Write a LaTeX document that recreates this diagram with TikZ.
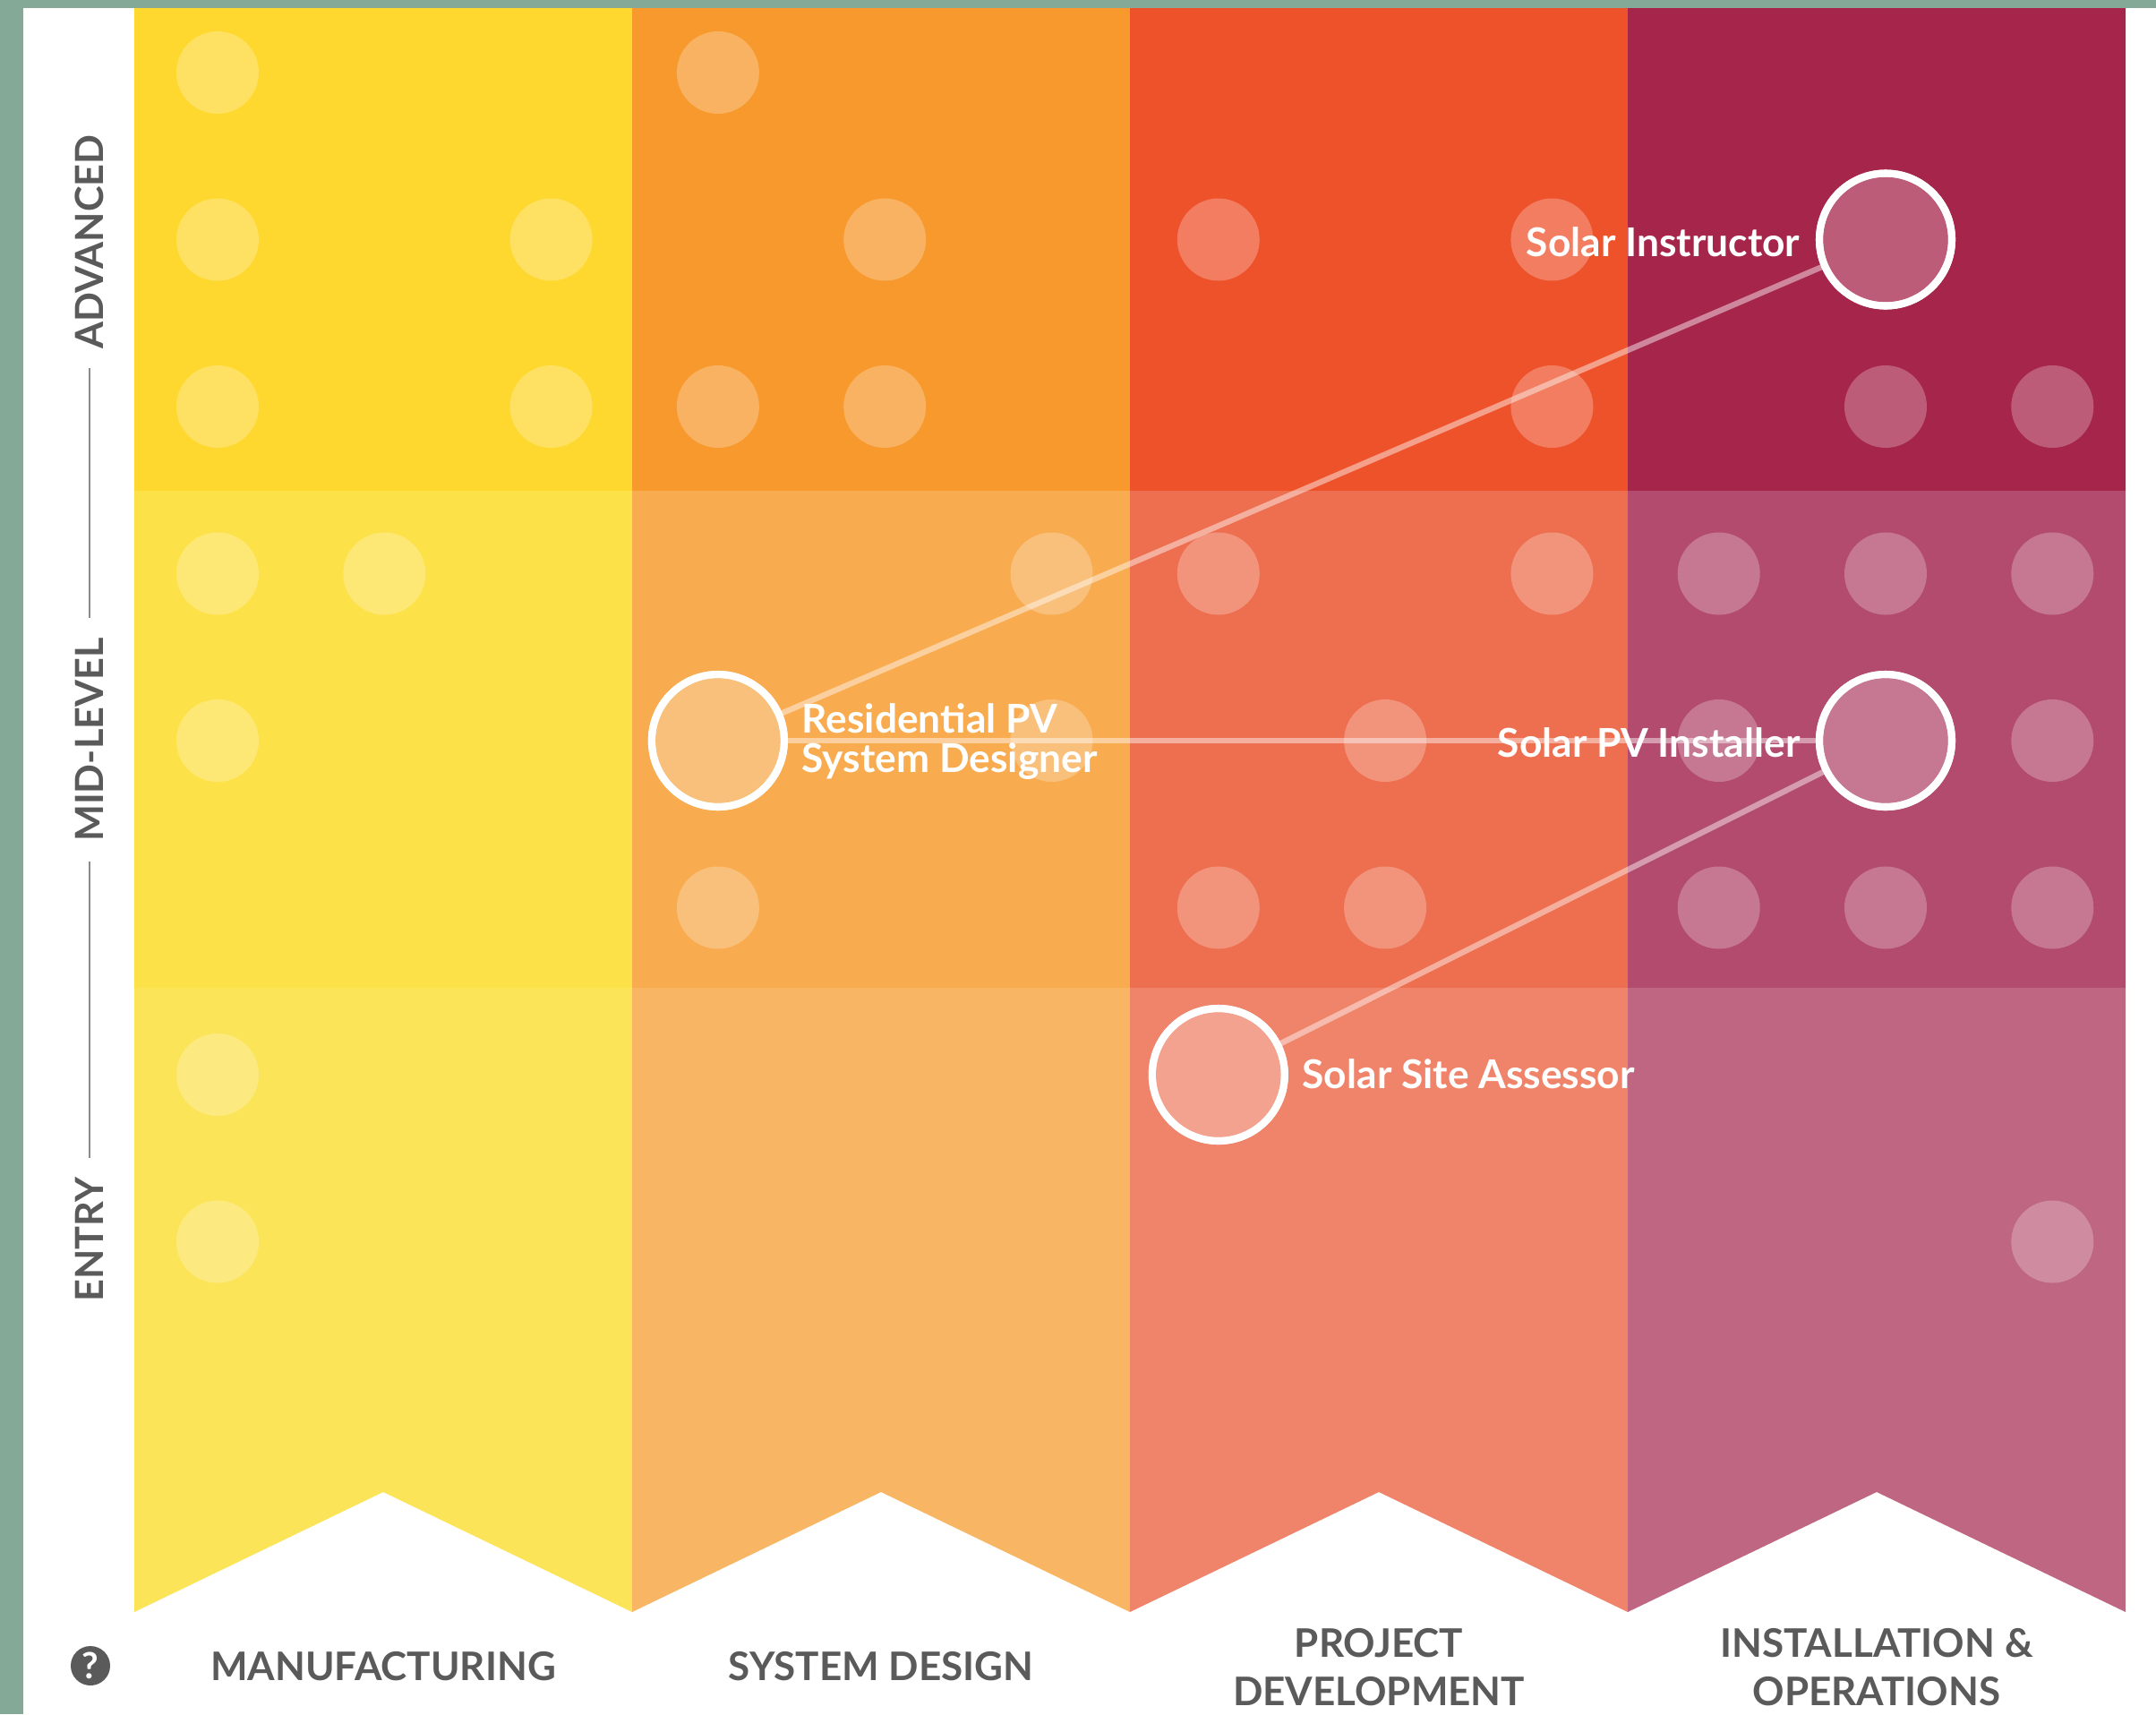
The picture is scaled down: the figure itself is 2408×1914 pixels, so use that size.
\documentclass[tikz,border=0pt]{standalone}
\usepackage{fontspec}
\setmainfont{Lato}
\definecolor{frame}{HTML}{84AA97}
\definecolor{yA}{HTML}{FED82F}
\definecolor{yB}{HTML}{FDE148}
\definecolor{yC}{HTML}{FCE458}
\definecolor{oA}{HTML}{F7992D}
\definecolor{oB}{HTML}{F8AB4F}
\definecolor{oC}{HTML}{F8B665}
\definecolor{rA}{HTML}{EE522B}
\definecolor{rB}{HTML}{EE6F4F}
\definecolor{rC}{HTML}{F0846A}
\definecolor{mA}{HTML}{A6264B}
\definecolor{mB}{HTML}{B34B6E}
\definecolor{mC}{HTML}{BF6682}
\definecolor{labgray}{HTML}{5A5A5A}
\begin{document}
\begin{tikzpicture}[x=0.01cm,y=-0.01cm,
  dot/.style={circle,fill=white,fill opacity=0.25,minimum size=92*0.01cm,inner sep=0pt},
  job/.style={circle,fill=white,fill opacity=0.25,draw=white,draw opacity=1,line width=2.3pt,minimum size=148*0.01cm,inner sep=0pt},
  link/.style={draw=white,draw opacity=0.45,line width=1.8pt},
  joblabel/.style={text=white,font=\bfseries\fontsize{12.6}{12.5}\selectfont,inner sep=0pt},
  collabel/.style={text=labgray,font=\bfseries\fontsize{12.5}{15.4}\selectfont,align=center,inner sep=0pt},
  axlabel/.style={text=labgray,font=\bfseries\fontsize{12.3}{14}\selectfont,rotate=90,inner sep=6pt},
  axline/.style={draw=labgray!70,line width=0.6pt}]
\useasboundingbox (0,0) rectangle (2408,1914);
\fill[white] (0,0) rectangle (2408,1914);
\fill[frame] (0,0) rectangle (26,1914);
\fill[frame] (0,0) rectangle (2408,9);
% columns
\foreach \x/\ca/\cb/\cc in {150/yA/yB/yC,706/oA/oB/oC,1262/rA/rB/rC,1818/mA/mB/mC}{
  \fill[\cc] (\x,9) -- ++(556,0) -- ++(0,1791) -- ++(-278,-134) -- ++(-278,134) -- cycle;
  \fill[\cb] (\x,548) rectangle ++(556,555);
  \fill[\ca] (\x,9) rectangle ++(556,539);
}
% dots
\foreach \i/\j in {0/0,3/0,
  0/1,2/1,4/1,6/1,8/1,
  0/2,2/2,3/2,4/2,8/2,10/2,11/2,
  0/3,1/3,5/3,6/3,8/3,9/3,10/3,11/3,
  0/4,5/4,7/4,9/4,11/4,
  3/5,6/5,7/5,9/5,10/5,11/5,
  0/6,
  0/7,11/7}{
  \node[dot] (d\i-\j) at ({243+186.3*\i},{81+186.5*\j}) {};
}
% job circles
\node[job] (instr) at ({243+186.3*10},{81+186.5*1}) {};
\node[job] (resid) at ({243+186.3*3},{81+186.5*4}) {};
\node[job] (inst) at ({243+186.3*10},{81+186.5*4}) {};
\node[job] (site) at ({243+186.3*6},{81+186.5*6}) {};
% links
\path[link] (resid) -- (instr);
\path[link] (resid) -- (inst);
\path[link] (site) -- (inst);
% redraw rings on top
\foreach \n in {instr,resid,inst,site}{
  \draw[white,line width=2.3pt] (\n.center) circle (74*0.01cm);
}
% job labels
\node[joblabel,anchor=east] (linstr) at (2011,270) {Solar Instructor};
\node[joblabel,anchor=east] (linst) at (2011,829) {Solar PV Installer};
\node[joblabel,anchor=west,align=left] (lresid) at (895,828) {Residential PV\\System Designer};
\node[joblabel,anchor=west] (lsite) at (1454,1199) {Solar Site Assessor};
% column labels
\node[collabel] (c1) at (428,1861) {MANUFACTURING};
\node[collabel] (c2) at (984,1861) {SYSTEM DESIGN};
\node[collabel] (c3) at (1540,1862) {PROJECT\\DEVELOPMENT};
\node[collabel] (c4) at (2096,1862) {INSTALLATION \&\\OPERATIONS};
\node[circle,fill=labgray,text=white,minimum size=44*0.01cm,inner sep=0pt,font=\bfseries\fontsize{11.5}{11.5}\selectfont] (help) at (101,1860) {?};
% axis labels
\node[axlabel] (adv) at (100,270) {ADVANCED};
\node[axlabel] (mid) at (100,826) {MID-LEVEL};
\node[axlabel] (ent) at (100,1384) {ENTRY};
\draw[axline] (adv.west) -- (mid.east);
\draw[axline] (mid.west) -- (ent.east);
\end{tikzpicture}
\end{document}
